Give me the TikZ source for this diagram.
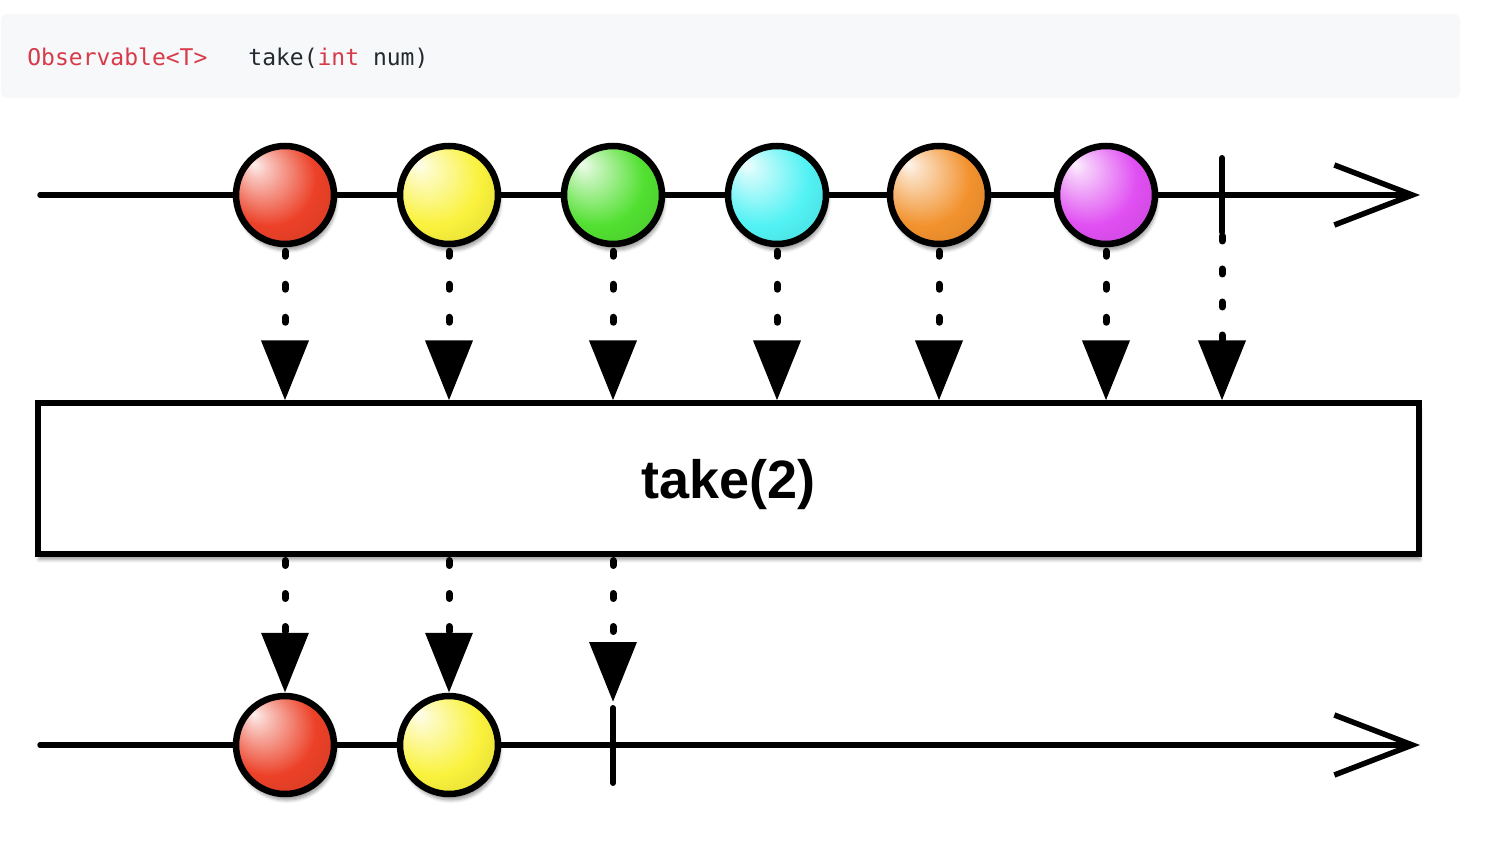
\documentclass[tikz,border=0pt]{standalone}
\usepackage{fontspec}
\setmonofont{DejaVu Sans Mono}
\setsansfont{Liberation Sans}
\usetikzlibrary{arrows.meta,positioning,calc,shadows.blur}
\definecolor{codebg}{HTML}{F6F8FA}
\definecolor{codered}{HTML}{D73A49}
\definecolor{codeink}{HTML}{24292E}
\definecolor{mred}{HTML}{EC4128}
\definecolor{myellow}{HTML}{FAF23C}
\definecolor{mgreen}{HTML}{52E031}
\definecolor{mcyan}{HTML}{52F2F4}
\definecolor{morange}{HTML}{F2922E}
\definecolor{mpurple}{HTML}{E04FF2}
\colorlet{mcol}{mred}
\pgfdeclareradialshading[mcol]{marble}{\pgfqpoint{-16bp}{16bp}}{%
  color(0bp)=(mcol!8!white);
  color(5bp)=(mcol!30!white);
  color(24bp)=(mcol);
  color(40bp)=(mcol!88!black);
  color(50bp)=(mcol!62!black)}

\begin{document}
\begin{tikzpicture}[x=0.5pt,y=-0.5pt,
    marble/.style={circle,draw,line width=3.25pt,minimum size=49pt,inner sep=0pt,
      /utils/exec={\colorlet{mcol}{#1}},shading=marble,shade,
      blur shadow={shadow xshift=1pt,shadow yshift=-3pt,shadow blur steps=6}},
    axis/.style={line width=2.75pt,line cap=round,-{Straight Barb[length=39pt,width=30pt]}},
    tick/.style={line width=3pt,line cap=round},
    flow/.style={line width=3.5pt,line cap=round,dash pattern=on 2.5pt off 14pt,shorten <=2pt,
      -{Triangle[length=30pt,width=23pt]}},
    opbox/.style={draw,line width=3pt,fill=white,minimum width=690.5pt,minimum height=75pt,text depth=0pt,
      font=\sffamily\bfseries\fontsize{27}{32}\selectfont,
      blur shadow={shadow xshift=0.5pt,shadow yshift=-3pt,shadow blur steps=6}},
    code/.style={anchor=base west,inner sep=0pt,text=codeink,font=\ttfamily\fontsize{11.5}{14}\selectfont}]
  \useasboundingbox (0,0) rectangle (1504,844);
  % signature bar
  \fill[codebg,rounded corners=3pt] (1,14) rectangle (1460,98);
  \node[code] (ret) at (27,66) {\textcolor{codered}{Observable<T>}};
  \node[code] (call) at (248,66) {take(\textcolor{codered}{int} num)};
  % source observable
  \coordinate (astart) at (40,195);
  \coordinate (astop) at (1420,195);
  \draw[axis] (astart) -- (astop);
  \node[marble=mred] (a1) at (285,195) {};
  \node[marble=myellow] (a2) at (449,195) {};
  \node[marble=mgreen] (a3) at (613,195) {};
  \node[marble=mcyan] (a4) at (777,195) {};
  \node[marble=morange] (a5) at (939,195) {};
  \node[marble=mpurple] (a6) at (1106,195) {};
  \coordinate (atop) at (1222,158);
  \coordinate (abot) at (1222,232);
  \draw[tick] (atop) -- (abot);
  % operator
  \node[opbox] (op) at (728.5,478.5) {take(2)};
  \draw[flow] (a1) -- (a1 |- op.north);
  \draw[flow] (a2) -- (a2 |- op.north);
  \draw[flow] (a3) -- (a3 |- op.north);
  \draw[flow] (a4) -- (a4 |- op.north);
  \draw[flow] (a5) -- (a5 |- op.north);
  \draw[flow] (a6) -- (a6 |- op.north);
  \draw[flow] (abot) -- (abot |- op.north);
  % result observable
  \coordinate (bstart) at (40,745);
  \coordinate (bstop) at (1420,745);
  \draw[axis] (bstart) -- (bstop);
  \node[marble=mred] (b1) at (285,745) {};
  \node[marble=myellow] (b2) at (449,745) {};
  \coordinate (btop) at (613,708);
  \coordinate (bbot) at (613,783);
  \draw[tick] (btop) -- (bbot);
  \draw[flow] (a1 |- op.south) -- (b1);
  \draw[flow] (a2 |- op.south) -- (b2);
  \draw[flow,shorten >=3pt] (btop |- op.south) -- (btop);
\end{tikzpicture}
\end{document}
